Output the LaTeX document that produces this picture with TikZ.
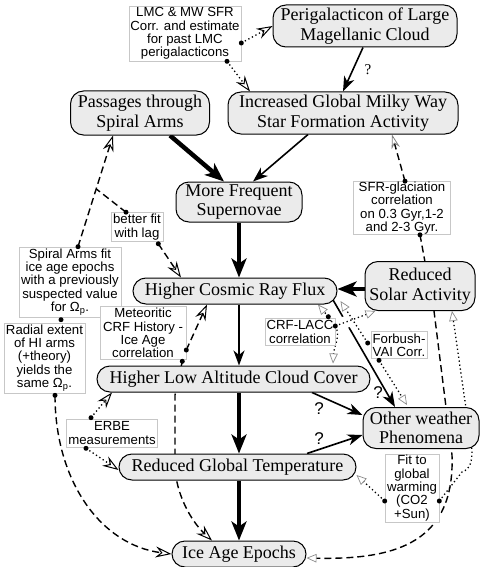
\documentclass[tikz,border=0pt]{standalone}
\usepackage{fontspec}
\setmainfont{Liberation Serif}
\newfontfamily\labfont{Liberation Sans}
\usetikzlibrary{arrows.meta,calc}
\pgfdeclarelayer{bg}
\pgfsetlayers{bg,main}
\begin{document}
\begin{tikzpicture}[x=1pt,y=-1pt,
 mainbox/.style={draw, line width=1pt, fill=black!8, rounded corners=13pt, inner sep=0pt, align=center, font=\fontsize{18}{19.5}\selectfont},
 labbox/.style={draw=black!22, line width=0.6pt, fill=white, inner sep=0pt, align=center, font=\labfont\fontsize{13.2}{13.4}\selectfont},
 solidarr/.style={line width=1.6pt, -{Stealth[length=15pt,width=11pt,inset=4.5pt]}},
 thickarr/.style={line width=4.5pt, -{Stealth[length=19pt,width=15pt,inset=5pt]}},
 openarr/.style={-{Stealth[open,length=16pt,width=11pt,inset=5.5pt,line width=1pt]}},
 grayarr/.style={-{Triangle[open,length=10pt,width=8.5pt,line width=0.7pt,color=black!45]}},
 graystealth/.style={-{Stealth[open,length=14pt,width=8.5pt,inset=4.5pt,line width=0.8pt,color=black!50]}},
 dashedline/.style={line width=1.4pt, dash pattern=on 7pt off 4pt},
 dottedline/.style={line width=1.3pt, dash pattern=on 1.3pt off 2.7pt},
 qmark/.style={font=\labfont\fontsize{17}{17}\selectfont, inner sep=0pt},
]
\useasboundingbox (0,0) rectangle (485,567);

% main nodes and label boxes
\node[mainbox, minimum width=184pt, minimum height=42pt] (perig) at (365,26) {Perigalacticon of Large\\Magellanic Cloud};
\node[labbox, minimum width=112pt, minimum height=55pt] (lmc) at (185,33.5) {LMC \& MW SFR\\Corr. and estimate\\for past LMC\\perigalacticons};
\node[mainbox, minimum width=230pt, minimum height=42pt] (sfr) at (343,113) {Increased Global Milky Way\\Star Formation Activity};
\node[mainbox, minimum width=139pt, minimum height=44pt] (pass) at (140,113) {Passages through\\Spiral Arms};
\node[mainbox, minimum width=126pt, minimum height=40pt] (sn) at (239,202) {More Frequent\\Supernovae};
\node[labbox, minimum width=97pt, minimum height=53pt] (glac) at (402,208) {SFR-glaciation\\correlation\\on 0.3 Gyr,1-2\\and 2-3 Gyr.};
\node[labbox, minimum width=52pt, minimum height=29pt] (lag) at (137,227) {better fit\\with lag};
\node[mainbox, minimum width=204pt, minimum height=26pt] (crf) at (235,291) {Higher Cosmic Ray Flux};
\node[mainbox, minimum width=110pt, minimum height=49pt] (solar) at (420,286) {Reduced\\Solar Activity};
\node[labbox, minimum width=102pt, minimum height=70pt] (sfit) at (70,282) {Spiral Arms fit\\ice age epochs\\with a previously\\suspected value\\for Ω\textsubscript{p}.};
\node[labbox, minimum width=81pt, minimum height=70pt] (radial) at (44.5,358) {Radial extent\\of HI arms\\(+theory)\\yields the\\same Ω\textsubscript{p}.};
\node[labbox, minimum width=86pt, minimum height=53pt] (meteor) at (143,333) {Meteoritic\\CRF History -\\Ice Age\\correlation};
\node[labbox, minimum width=70pt, minimum height=27pt] (lacc) at (300,332) {CRF-LACC\\correlation};
\node[labbox, minimum width=56pt, minimum height=27pt] (forb) at (399,345) {Forbush-\\VAI Corr.};
\node[mainbox, minimum width=273pt, minimum height=26pt] (cloud) at (233.5,379) {Higher Low Altitude Cloud Cover};
\node[labbox, minimum width=91pt, minimum height=28pt] (erbe) at (112,433) {ERBE\\measurements};
\node[mainbox, minimum width=116pt, minimum height=41pt] (other) at (421,428) {Other weather\\Phenomena};
\node[mainbox, minimum width=237pt, minimum height=26pt] (temp) at (237.5,467) {Reduced Global Temperature};
\node[labbox, minimum width=54pt, minimum height=68pt] (fit) at (412,488) {Fit to\\global\\warming\\(CO2\\+Sun)};
\node[mainbox, minimum width=134pt, minimum height=26pt] (ice) at (239,554) {Ice Age Epochs};

% question marks
\node[inner sep=0pt, font=\fontsize{15}{15}\selectfont] (q1) at (368,70) {?};
\node[qmark] (q2) at (319,409) {?};
\node[qmark] (q3) at (319,439) {?};
\node[qmark] (q4) at (378,393) {?};

% dot coordinates
\coordinate (dLmcA) at ([yshift=-9.5pt]lmc.east);
\coordinate (dLmcB) at ([xshift=42pt]lmc.south);
\coordinate (dGlacT) at ([xshift=3pt]glac.north);
\coordinate (dGlacB) at ([xshift=18pt]glac.south);
\coordinate (dFitR) at ([yshift=-13pt]fit.east);
\coordinate (dFitL) at ([yshift=-13pt]fit.west);
\coordinate (dLaccA) at ([xshift=-7pt,yshift=1.5pt]lacc.north east);
\coordinate (dLaccB) at ([yshift=6pt]lacc.east);
\coordinate (dForA) at ([xshift=-3pt,yshift=2pt]forb.west);
\coordinate (dForB) at ([xshift=-20pt,yshift=-1.5pt]forb.south);
\coordinate (dSfit) at ([xshift=8pt]sfit.north);
\coordinate (tPass) at ([xshift=-27pt]pass.south);
\coordinate (junc) at ($(dSfit)!0.52!(tPass)$);
\coordinate (dLagT) at ([xshift=-11pt]lag.north);
\coordinate (dLagB) at ([xshift=-5pt,yshift=-2pt]lag.south east);
\coordinate (dRadT) at ([xshift=16.5pt,yshift=3pt]radial.north);
\coordinate (dRadB) at ([xshift=10.5pt,yshift=-2pt]radial.south);
\coordinate (dMetA) at ([yshift=-17pt]meteor.east);
\coordinate (dMetB) at ([xshift=-4pt,yshift=-1.5pt]meteor.south east);
\coordinate (dErbeT) at ([xshift=-21pt,yshift=1pt]erbe.north);
\coordinate (dErbeB) at ([xshift=-26pt,yshift=-1pt]erbe.south);

\begin{pgfonlayer}{bg}
% solid causal links
\draw[solidarr] ([xshift=-2pt]perig.south) -- (sfr.north);
\draw[thickarr] ([xshift=30pt]pass.south) -- ([xshift=-15pt]sn.north);
\draw[solidarr] ([xshift=-35pt]sfr.south) -- ([xshift=14pt]sn.north);
\draw[thickarr] (sn.south) -- ([xshift=4pt]crf.north);
\draw[solidarr] ([xshift=4pt]crf.south) -- ([xshift=5.5pt]cloud.north);
\draw[thickarr] ([xshift=5.5pt]cloud.south) -- ([xshift=1.5pt]temp.north);
\draw[thickarr] ([xshift=1.5pt]temp.south) -- (ice.north);
\draw[thickarr] ([yshift=-3pt]solar.west) -- ([yshift=2pt]crf.east);
\draw[solidarr] ([xshift=78.5pt]cloud.south) -- ([yshift=13pt]other.west);
\draw[solidarr] ([xshift=69.5pt]temp.north) -- ([yshift=-7pt]other.west);
\draw[solidarr] ([xshift=-5pt,yshift=-8pt]crf.east) -- ([xshift=-26pt]other.north);
% white halo where the dotted line crosses
\draw[white, line width=12pt, shorten <=6pt, shorten >=14pt] (dLaccB) -- ([xshift=11pt]solar.south west);

% evidence links
\draw[dottedline, openarr] (dLmcA) -- (perig.west);
\draw[dottedline, openarr] (dLmcB) -- ([xshift=-93pt]sfr.north);
\draw[dashedline, graystealth] (dGlacT) -- ([xshift=49pt]sfr.south);
\draw[dashedline, grayarr] (dGlacB) -- (434,311) -- (452,455) .. controls (455,540) and (400,560) .. ([yshift=-4pt]ice.east);
\draw[dottedline, grayarr] (dFitR) -- (462,472) .. controls (471,469) and (472,460) .. (472,450) -- ([xshift=32pt]solar.south);
\draw[dottedline, grayarr] (dFitL) -- ([yshift=-8pt]temp.east);
\draw[dottedline, grayarr] (dLaccA) -- ([xshift=83pt]crf.south);
\draw[dottedline, grayarr] (dLaccB) -- ([xshift=11pt]solar.south west);
\draw[dottedline, grayarr] (dLaccB) .. controls (341,336) and (334,346) .. ([xshift=99.5pt,yshift=2pt]cloud.north);
\draw[dottedline, grayarr] (dForA) -- ([xshift=3pt,yshift=-10pt]crf.east);
\draw[dottedline, grayarr] (dForB) -- ([xshift=-14pt,yshift=2pt]other.north);
\draw[dashedline, openarr] (dSfit) -- (tPass);
\draw[dashedline] (dLagT) -- (junc);
\draw[dashedline, openarr] (dLagB) -- ([xshift=-54pt]crf.north);
\draw[dashedline, openarr] (dRadB) .. controls (55,480) and (100,545) .. (ice.west);
\draw[dashedline, openarr] (dMetA) -- ([xshift=-28pt]crf.south);
\draw[dashedline, openarr] (dMetB) -- (175,395) -- (175,470) .. controls (178,500) and (194,524) .. ([xshift=-27pt]ice.north);
\draw[dottedline, openarr] (dErbeT) -- ([xshift=-121.5pt]cloud.south);
\draw[dottedline, openarr] (dErbeB) -- ([yshift=-3pt]temp.west);
\end{pgfonlayer}

% dots
\foreach \c in {dLmcA,dLmcB,dGlacT,dGlacB,dFitR,dFitL,dLaccA,dLaccB,dForA,dForB,dSfit,dLagT,dLagB,dRadT,dRadB,dMetA,dMetB,dErbeT,dErbeB}
  \fill (\c) circle (2.5pt);
\end{tikzpicture}
\end{document}
